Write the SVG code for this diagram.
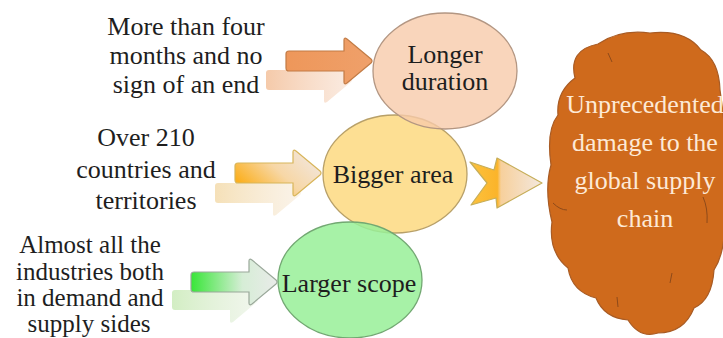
<svg xmlns="http://www.w3.org/2000/svg" width="723" height="338" viewBox="0 0 723 338">
<defs>
<style>
.t{font-family:"Liberation Serif","Times New Roman",serif;font-size:26px;fill:#1e1e1e;text-anchor:middle}
.s{font-size:25px}
.c{font-family:"Liberation Serif","Times New Roman",serif;font-size:26px;fill:#FDE9D6;text-anchor:middle}
.ell{stroke-width:1.3}
</style>
<path id="arr" d="M3,-10 H58 V-21 Q58,-24 61,-22 L85,-2 Q87,0 85,2 L61,22 Q58,24 58,21 V10 H3 Q0,10 0,7 V-7 Q0,-10 3,-10 Z"/>
<linearGradient id="gOr" x1="0" y1="0" x2="1" y2="0">
<stop offset="0" stop-color="#EE975A"/><stop offset="1" stop-color="#EFA06A"/>
</linearGradient>
<linearGradient id="gOrS" x1="0" y1="0" x2="1" y2="0">
<stop offset="0" stop-color="#F4C4A0" stop-opacity="0.9"/><stop offset="1" stop-color="#F6D8C4" stop-opacity="0.5"/>
</linearGradient>
<linearGradient id="gYe" x1="0" y1="0.6" x2="0.9" y2="0.1">
<stop offset="0" stop-color="#FBB020"/><stop offset="0.5" stop-color="#F7D7A6"/><stop offset="1" stop-color="#F2E6DC"/>
</linearGradient>
<linearGradient id="gYeS" x1="0" y1="0" x2="1" y2="0">
<stop offset="0" stop-color="#F4DDB0" stop-opacity="0.9"/><stop offset="1" stop-color="#F6E8D4" stop-opacity="0.5"/>
</linearGradient>
<linearGradient id="gGr" x1="0" y1="0" x2="1" y2="0">
<stop offset="0" stop-color="#38E638"/><stop offset="0.6" stop-color="#D6EDD6"/><stop offset="1" stop-color="#E9EBE9"/>
</linearGradient>
<linearGradient id="gGrS" x1="0" y1="0" x2="1" y2="0">
<stop offset="0" stop-color="#D0EDC0" stop-opacity="0.95"/><stop offset="1" stop-color="#E4EEDC" stop-opacity="0.5"/>
</linearGradient>
<linearGradient id="gCh" gradientUnits="userSpaceOnUse" x1="470" y1="0" x2="542" y2="0">
<stop offset="0" stop-color="#FCC23E"/><stop offset="0.38" stop-color="#FBB42A"/><stop offset="0.43" stop-color="#F7D09C"/><stop offset="1" stop-color="#F3E8DE"/>
</linearGradient>
</defs>

<g id="connectors">
<use href="#arr" transform="translate(266,80)" fill="url(#gOrS)"/>
<use href="#arr" transform="translate(286,61)" fill="url(#gOr)" stroke="#C27B45" stroke-width="1.2"/>
<use href="#arr" transform="translate(215,193)" fill="url(#gYeS)"/>
<use href="#arr" transform="translate(235,173)" fill="url(#gYe)" stroke="#D8B55A" stroke-width="1.2"/>
<use href="#arr" transform="translate(172,300)" fill="url(#gGrS)"/>
<use href="#arr" transform="translate(191,282)" fill="url(#gGr)" stroke="#9AA89A" stroke-width="1.2"/>
<path d="M470,162 L494,170 L497,158 L542,183 L497,208 L496,198 L471,205 L487,183 Z" fill="url(#gCh)" stroke="#C6AE5A" stroke-width="1.2" stroke-linejoin="round"/>
</g>

<g id="text-duration">
<text class="t" x="186" y="35">More than four</text>
<text class="t" x="186" y="64">months and no</text>
<text class="t" x="186" y="93">sign of an end</text>
</g>
<g id="text-area">
<text class="t" x="146" y="146">Over 210</text>
<text class="t" x="146" y="178">countries and</text>
<text class="t" x="146" y="209">territories</text>
</g>
<g id="text-scope">
<text class="t s" x="90" y="253">Almost all the</text>
<text class="t s" x="90" y="279.5">industries both</text>
<text class="t s" x="90" y="306">in demand and</text>
<text class="t s" x="89" y="332">supply sides</text>
</g>

<g id="node-area">
<ellipse class="ell" cx="395" cy="174" rx="72" ry="59" fill="#FDD980" fill-opacity="0.85" stroke="#B8A068"/>
<text class="t" x="393" y="183">Bigger area</text>
</g>
<g id="node-duration">
<ellipse class="ell" cx="445" cy="71" rx="72" ry="58" fill="#F7CAAA" fill-opacity="0.8" stroke="#B39682"/>
<text class="t" x="445" y="63">Longer</text>
<text class="t" x="445" y="90">duration</text>
</g>
<g id="node-scope">
<ellipse class="ell" cx="350" cy="280" rx="72" ry="58" fill="#98F098" fill-opacity="0.85" stroke="#72A872"/>
<text class="t" x="349" y="292">Larger scope</text>
</g>

<g id="node-damage">
<path d="M575,78 Q568,50 598,44 Q620,29 650,33 Q685,29 701,50 Q719,60 720,90 Q729,150 724,210 Q727,250 714,270 Q712,300 694,308 Q684,333 658,333 Q640,339 628,320 Q604,318 596,298 Q572,292 568,268 Q548,252 552,222 Q544,190 551,165 Q546,130 558,115 Q556,92 575,78 Z" fill="#CF6A1C" stroke="#A85B24" stroke-width="1.2"/>
<g fill="none" stroke="#8E4A1A" stroke-width="1">
<path d="M608,53 L612,62"/>
<path d="M553,203 Q560,210 567,210"/>
<path d="M703,197 Q708,208 707,223"/>
<path d="M672,273 L670,283"/>
<path d="M617,297 L618,307"/>
</g>
<text class="c" x="645" y="113">Unprecedented</text>
<text class="c" x="645" y="151">damage to the</text>
<text class="c" x="645" y="189">global supply</text>
<text class="c" x="645" y="227">chain</text>
</g>
</svg>
